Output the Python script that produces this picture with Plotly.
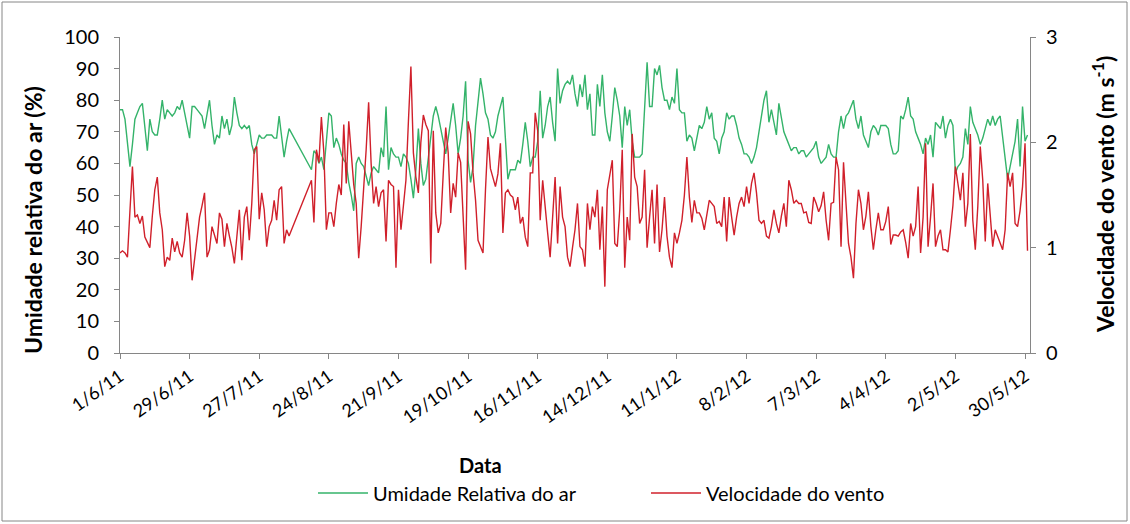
import pandas as pd
import plotly.graph_objects as go

# Daily series, 1/6/2011 .. 31/5/2012 (None = missing days)
start_date = "2011-06-01"
humidity = [
    77, 77, 74, 66, 59, 66, 74, 76, 78, 79,
    72, 64, 74, 70, 69, 69, 74, 80, 74, 77,
    76, 75, 76, 78, 77, 80, 76, 72, 68, 78,
    78, 77, 76, 75, 71, 76, 80, 72, 66, 69,
    68, 75, 71, 74, 69, 72, 81, 76, 72, 71,
    72, 71, 72, 66, 63, 66, 69, 68, 68, 69,
    69, 69, 68, 68, 75, 69, 62, 67, 71, None,
    None, None, None, None, None, None, None, 58, 64, 63,
    60, 62, 58, 67, 76, 75, 65, 68, 66, 63,
    61, 60, 54, 50, 45, 60, 62, 60, 59, 56,
    53, 57, 59, 58, 57, 65, 62, 78, 58, 65,
    63, 62, 62, 59, 63, 62, 60, 55, 49, 58,
    71, 60, 53, 55, 62, 70, 75, 78, 75, 71,
    67, 63, 68, 74, 79, 72, 63, 68, 75, 86,
    61, 54, 59, 72, 80, 87, 82, 76, 74, 69,
    68, 70, 75, 78, 81, 68, 55, 58, 58, 58,
    61, 60, 66, 73, 67, 59, 62, 62, 67, 83,
    68, 72, 78, 81, 73, 67, 90, 79, 83, 85,
    86, 85, 88, 82, 78, 85, 81, 88, 77, 82,
    69, 69, 85, 78, 88, 76, 70, 67, 75, 84,
    80, 75, 65, 78, 72, 77, 67, 62, 62, 62,
    63, 80, 92, 78, 78, 90, 88, 91, 84, 80,
    80, 77, 81, 79, 90, 77, 76, 76, 67, 69,
    68, 64, 68, 72, 71, 73, 78, 74, 76, 68,
    67, 63, 68, 70, 76, 74, 75, 75, 72, 68,
    66, 63, 63, 62, 60, 62, 65, 70, 75, 80,
    83, 73, 77, 73, 69, 79, 74, 70, 68, 66,
    64, 65, 65, 63, 64, 64, 62, 63, 64, 65,
    67, 62, 60, 61, 62, 66, 63, 62, 62, 70,
    75, 71, 75, 76, 78, 80, 74, 71, 75, 69,
    67, 65, 70, 72, 71, 69, 72, 72, 72, 71,
    66, 63, 63, 64, 75, 74, 77, 81, 75, 74,
    70, 68, 66, 63, 68, 66, 69, 62, 73, 72,
    71, 75, 68, 72, 74, 72, 57, 59, 60, 62,
    71, 66, 78, 73, 71, 69, 66, 68, 71, 74,
    72, 75, 72, 74, 75, 68, 62, 55, 59, 63,
    67, 74, 59, 78, 67, 69,
]
wind = [
    0.95, 0.97, 0.95, 0.91, 1.35, 1.77, 1.29, 1.31, 1.23, 1.30,
    1.10, 1.05, 1.00, 1.30, 1.55, 1.67, 1.33, 1.17, 0.82, 0.91,
    0.88, 1.09, 0.96, 1.06, 0.95, 0.91, 1.07, 1.33, 1.11, 0.69,
    0.88, 1.11, 1.29, 1.40, 1.52, 0.91, 0.98, 1.20, 1.11, 1.04,
    1.33, 1.27, 1.01, 1.23, 1.11, 1.00, 0.85, 1.10, 1.36, 0.88,
    1.29, 1.39, 1.07, 1.42, 1.93, 1.96, 1.27, 1.52, 1.36, 1.01,
    1.20, 1.26, 1.45, 1.26, 1.55, 1.58, 1.04, 1.17, 1.11, None,
    None, None, None, None, None, None, None, 1.64, 1.24, 1.93,
    1.81, 2.24, 1.90, 1.17, 1.33, 1.33, 1.20, 1.42, 1.60, 1.50,
    2.17, 1.61, 2.20, 1.90, 1.60, 1.42, 0.90, 1.20, 1.55, 1.93,
    2.38, 1.80, 1.42, 1.58, 1.39, 1.52, 1.55, 1.06, 1.64, 1.60,
    1.58, 0.81, 1.55, 1.17, 1.40, 1.64, 2.20, 2.72, 1.90, 1.67,
    1.52, 2.00, 2.26, 2.17, 2.11, 0.85, 2.11, 1.33, 1.14, 1.23,
    1.70, 2.14, 1.90, 1.33, 1.61, 1.48, 1.90, 1.81, 1.30, 0.79,
    2.20, 2.08, 1.71, 1.45, 1.07, 1.00, 0.95, 1.55, 2.05, 1.75,
    1.65, 1.58, 1.70, 1.99, 1.14, 1.52, 1.55, 1.50, 1.48, 1.36,
    1.48, 1.23, 1.29, 1.10, 1.01, 1.71, 1.71, 2.28, 2.11, 1.26,
    1.64, 1.36, 1.14, 0.91, 1.30, 1.67, 1.04, 1.58, 1.29, 1.20,
    0.91, 0.82, 1.00, 1.17, 1.42, 1.01, 0.98, 0.82, 1.42, 1.17,
    1.39, 1.29, 1.55, 0.98, 1.39, 0.63, 1.55, 1.71, 1.83, 1.04,
    1.01, 1.36, 1.93, 0.81, 1.29, 1.07, 2.08, 1.67, 1.58, 1.23,
    1.29, 1.74, 1.00, 1.29, 1.55, 1.04, 1.60, 0.96, 1.17, 1.48,
    1.11, 0.91, 0.81, 1.14, 1.04, 1.14, 1.26, 1.50, 1.86, 1.48,
    1.24, 1.45, 1.33, 1.33, 1.28, 1.17, 1.30, 1.45, 1.42, 1.39,
    1.23, 1.25, 1.20, 1.48, 1.06, 1.48, 1.29, 1.12, 1.29, 1.42,
    1.48, 1.39, 1.58, 1.42, 1.61, 1.71, 1.52, 1.26, 1.23, 1.26,
    1.11, 1.09, 1.20, 1.36, 1.23, 1.14, 1.30, 1.42, 1.20, 1.64,
    1.55, 1.42, 1.45, 1.42, 1.42, 1.33, 1.34, 1.24, 1.23, 1.48,
    1.42, 1.34, 1.40, 1.53, 1.26, 1.07, 1.42, 1.43, 1.86, 1.74,
    1.01, 1.81, 1.42, 1.04, 0.91, 0.71, 1.23, 1.55, 1.42, 1.17,
    1.30, 1.53, 1.20, 0.98, 1.17, 1.33, 1.17, 1.17, 1.25, 1.39,
    1.03, 1.12, 1.12, 1.11, 1.15, 1.17, 1.05, 0.90, 1.23, 1.11,
    1.20, 1.58, 0.95, 1.29, 1.99, 1.01, 1.29, 1.61, 1.01, 1.11,
    1.17, 0.98, 0.98, 0.96, 1.17, 1.40, 1.77, 1.61, 1.45, 1.71,
    1.20, 1.42, 2.08, 1.26, 0.98, 1.39, 1.96, 1.64, 1.06, 1.61,
    1.29, 1.01, 1.17, 1.11, 1.05, 0.98, 1.17, 1.71, 1.58, 1.71,
    1.23, 1.20, 1.35, 1.58, 1.99, 0.97,
]
tick_labels = ["1/6/11", "29/6/11", "27/7/11", "24/8/11", "21/9/11", "19/10/11",
               "16/11/11", "14/12/11", "11/1/12", "8/2/12", "7/3/12", "4/4/12",
               "2/5/12", "30/5/12"]

dates = pd.date_range(start_date, periods=len(humidity), freq="D")
tick_vals = pd.date_range(start_date, periods=len(tick_labels), freq="28D")

FONT = "Lato"
GREEN = "#34B36A"
RED = "#D0202B"
GREY = "#868686"

fig = go.Figure()
fig.add_trace(go.Scatter(x=dates, y=humidity, mode="lines", name="Umidade Relativa do ar",
                         line=dict(color=GREEN, width=1.4), connectgaps=True))
fig.add_trace(go.Scatter(x=dates, y=wind, mode="lines", name="Velocidade do vento",
                         line=dict(color=RED, width=1.4), connectgaps=True, yaxis="y2"))

L, R, T, B = 120, 1030, 37, 353
W, H = 1130, 524
pw, ph = R - L, B - T


def px(x):
    return (x - L) / pw


def py(y):
    return (B - y) / ph


fig.update_layout(
    width=W, height=H,
    margin=dict(l=L, r=W - R, t=T, b=H - B),
    paper_bgcolor="white", plot_bgcolor="white",
    font=dict(family=FONT, size=16, color="black"),
    showlegend=True,
    legend=dict(orientation="h", x=px(313), xanchor="left", y=py(493), yanchor="middle",
                font=dict(size=20), entrywidth=268, itemwidth=50),
    xaxis=dict(type="date", range=["2011-06-01", "2012-06-01"],
               tickvals=tick_vals, ticktext=tick_labels, tickangle=-35,
               showgrid=False, zeroline=False, showline=True, linecolor=GREY, linewidth=1,
               ticks="outside", ticklen=5, tickcolor=GREY, tickfont=dict(size=18)),
    yaxis=dict(range=[0, 100], dtick=10, showgrid=False, zeroline=False,
               showline=True, linecolor=GREY, linewidth=1, ticks="outside", ticklen=5,
               tickcolor=GREY, tickfont=dict(size=20), ticklabelstandoff=11),
    yaxis2=dict(range=[0, 3], dtick=1, overlaying="y", side="right", showgrid=False,
                zeroline=False, showline=True, linecolor=GREY, linewidth=1,
                ticks="outside", ticklen=5, tickcolor=GREY, tickfont=dict(size=20),
                ticklabelstandoff=6),
    annotations=[
        dict(text="<b>Umidade relativa do ar (%)</b>", xref="paper", yref="paper",
             x=px(33), y=py(220), textangle=-90, showarrow=False, font=dict(size=23),
             xanchor="center", yanchor="middle"),
        dict(text="<b>Velocidade do vento (m s<sup>-1</sup>)</b>", xref="paper", yref="paper",
             x=px(1103), y=py(195), textangle=-90, showarrow=False, font=dict(size=23),
             xanchor="center", yanchor="middle"),
        dict(text="<b>Data</b>", xref="paper", yref="paper", x=px(480), y=py(465),
             showarrow=False, font=dict(size=20), xanchor="center", yanchor="middle"),
    ],
    shapes=[dict(type="rect", xref="paper", yref="paper", x0=px(2), x1=px(1127),
                 y0=py(521), y1=py(2), line=dict(color=GREY, width=1))],
)

fig.write_html("out.html")
